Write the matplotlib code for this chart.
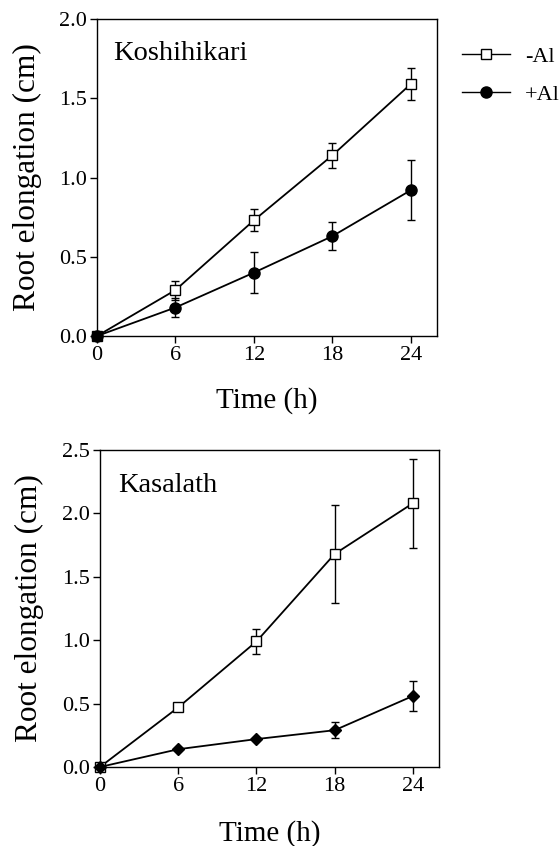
import matplotlib
matplotlib.use("Agg")
import matplotlib.pyplot as plt
from matplotlib.lines import Line2D

plt.rcParams['font.family'] = ['Liberation Serif', 'DejaVu Serif']

time_h = [0, 6, 12, 18, 24]

# Koshihikari
kosh_minus = [0.0, 0.29, 0.73, 1.14, 1.59]
kosh_minus_err = [0.0, 0.06, 0.07, 0.08, 0.10]
kosh_plus = [0.0, 0.18, 0.40, 0.63, 0.92]
kosh_plus_err = [0.0, 0.06, 0.13, 0.09, 0.19]

# Kasalath
kasa_minus = [0.0, 0.47, 0.99, 1.68, 2.08]
kasa_minus_err = [0.0, 0.02, 0.10, 0.39, 0.35]
kasa_plus = [0.0, 0.14, 0.22, 0.29, 0.56]
kasa_plus_err = [0.0, 0.01, 0.01, 0.065, 0.115]

x_ticks = [0, 6, 12, 18, 24]
top_yticks = [0.0, 0.5, 1.0, 1.5, 2.0]
bot_yticks = [0.0, 0.5, 1.0, 1.5, 2.0, 2.5]

fig = plt.figure(figsize=(5.59, 8.46), dpi=100)
ax1 = fig.add_axes([0.1735, 0.6028, 0.6082, 0.3747])
ax2 = fig.add_axes([0.1789, 0.0934, 0.6064, 0.3747])

def style(ax, yticks, ymax, title, tx, ty, xpad, ypad):
    ax.set_xlim(0, 26)
    ax.set_ylim(0, ymax)
    ax.set_xticks(x_ticks)
    ax.set_yticks(yticks)
    ax.set_yticklabels([f"{v:.1f}" for v in yticks])
    ax.tick_params(direction='out', length=5, width=1, labelsize=16, pad=2)
    for s in ax.spines.values():
        s.set_linewidth(1.0)
    ax.set_xlabel("Time (h)", fontsize=21, labelpad=xpad)
    ax.set_ylabel("Root elongation (cm)", fontsize=22.5, labelpad=ypad)
    ax.text(tx, ty, title, transform=ax.transAxes, fontsize=20.5, va='baseline', ha='left')

kw = dict(color='black', lw=1.3, capsize=3, elinewidth=1.0, capthick=1.0, clip_on=False, zorder=3)
ax1.errorbar(time_h, kosh_minus, yerr=kosh_minus_err, marker='s', ms=7.5, mfc='white', mec='black', mew=1.0, **kw)
ax1.errorbar(time_h, kosh_plus, yerr=kosh_plus_err, marker='o', ms=8, mfc='black', mec='black', **kw)
style(ax1, top_yticks, 2.0, "Koshihikari", 0.047, 0.871, 16, 12.5)

ax2.errorbar(time_h, kasa_minus, yerr=kasa_minus_err, marker='s', ms=7.5, mfc='white', mec='black', mew=1.0, **kw)
ax2.errorbar(time_h, kasa_plus, yerr=kasa_plus_err, marker='D', ms=6.5, mfc='black', mec='black', **kw)
style(ax2, bot_yticks, 2.5, "Kasalath", 0.053, 0.868, 17.5, 13)

h1 = Line2D([], [], color='black', lw=1.0, marker='s', ms=7.5, mfc='white', mec='black')
h2 = Line2D([], [], color='black', lw=1.0, marker='o', ms=8, mfc='black', mec='black')
fig.legend([h1, h2], ['-Al', '+Al'], loc='upper left', bbox_to_anchor=(0.810, 0.956),
           frameon=False, fontsize=16, handlelength=2.16, handletextpad=0.68,
           labelspacing=0.8, borderaxespad=0)

fig.savefig("out.png", dpi=100)
